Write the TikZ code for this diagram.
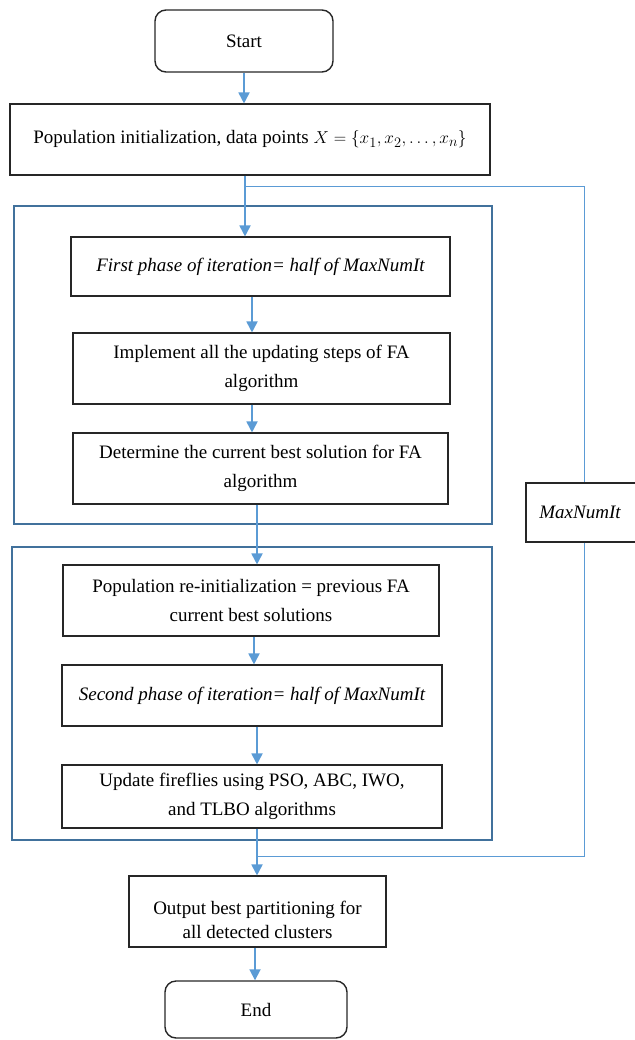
\documentclass[tikz,border=0pt]{standalone}
\usepackage{fontspec}
\setmainfont{Liberation Serif}
\usetikzlibrary{arrows.meta}

\definecolor{flowblue}{HTML}{5B9BD5}
\definecolor{groupblue}{HTML}{41719C}

\begin{document}
\begin{tikzpicture}[x=1pt, y=-1pt,
  box/.style={draw=black!85, line width=1.1pt, align=center, inner sep=4pt,
    font=\fontsize{19}{29}\selectfont},
  terminal/.style={box, rounded corners=11pt, line width=1.4pt},
  flow/.style={flowblue, line width=1.8pt, -{Triangle[width=11pt,length=11pt]}},
  loopline/.style={flowblue, line width=0.9pt},
  group/.style={draw=groupblue, line width=1.8pt}]

  \useasboundingbox (0,0) rectangle (634,1040);

  % Frames round the two phases
  \draw[group] (14,206) rectangle (492,524);
  \draw[group] (12,547) rectangle (492,840);

  % Start and initialization
  \node[terminal, minimum width=178pt, minimum height=62pt] (start) at (244,41) {Start};
  \node[box, minimum width=480pt, minimum height=71pt] (init) at (250,139.5)
    {Population initialization, data points $X = \{x_1, x_2, \ldots, x_n\}$};

  % First phase (FA)
  \node[box, minimum width=379pt, minimum height=59pt] (phase1) at (260.5,266.5)
    {\itshape First phase of iteration= half of MaxNumIt};
  \node[box, minimum width=377pt, minimum height=71pt] (update1) at (261.5,368.5)
    {Implement all the updating steps of FA\\ algorithm};
  \node[box, minimum width=375pt, minimum height=71pt] (best1) at (260.5,468.5)
    {Determine the current best solution for FA\\ algorithm};

  % Second phase (hybrid)
  \node[box, minimum width=376pt, minimum height=71pt] (reinit) at (251,600.5)
    {Population re-initialization = previous FA\\ current best solutions};
  \node[box, minimum width=380pt, minimum height=61pt] (phase2) at (252,695.5)
    {\itshape Second phase of iteration= half of MaxNumIt};
  \node[box, minimum width=380pt, minimum height=63pt] (update2) at (252,796.5)
    {Update fireflies using PSO, ABC, IWO,\\ and TLBO algorithms};

  % Output and end
  \node[box, minimum width=257pt, minimum height=71pt, font=\fontsize{19}{24}\selectfont]
    (output) at (257.5,911.5)
    {\rule{0pt}{30pt}Output best partitioning for\\ all detected clusters};
  \node[terminal, minimum width=182pt, minimum height=57pt] (end) at (256,1009.5) {End};

  % Iteration counter on the right (runs past the page edge)
  \node[box, minimum width=116pt, minimum height=59pt] (maxit) at (584,512.5)
    {\itshape MaxNumIt\hspace{8pt}};

  % Split and merge points of the loop
  \coordinate (split) at (245,186);
  \coordinate (merge) at (257,856);

  % Main flow
  \draw[flow] (start) -- (start |- init.north);
  \draw[flowblue, line width=1.8pt] (init.south -| split) -- (split);
  \draw[flow] (split) -- (split |- phase1.north);
  \draw[flow] (phase1.south -| 252,0) -- (252,0 |- update1.north);
  \draw[flow] (update1.south -| 252,0) -- (252,0 |- best1.north);
  \draw[flow] (best1.south -| merge) -- (merge |- reinit.north);
  \draw[flow] (reinit.south -| 254,0) -- (254,0 |- phase2.north);
  \draw[flow] (phase2.south -| merge) -- (merge |- update2.north);
  \draw[flowblue, line width=1.8pt] (update2.south -| merge) -- (merge);
  \draw[flow] (merge) -- (merge |- output.north);
  \draw[flow] (output.south -| 255,0) -- (255,0 |- end.north);

  % Loop over MaxNumIt
  \draw[loopline] (split) -| (maxit.north);
  \draw[loopline] (maxit.south) |- (merge);
\end{tikzpicture}
\end{document}
